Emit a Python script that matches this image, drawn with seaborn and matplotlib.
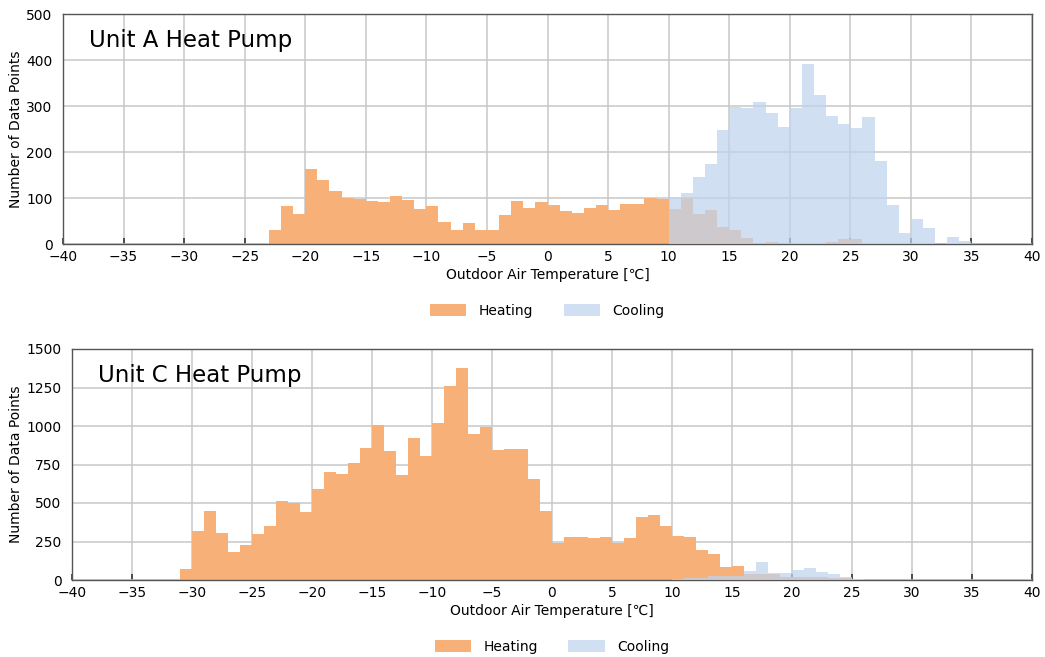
import matplotlib
matplotlib.use("Agg")
import matplotlib.pyplot as plt
import numpy as np
import pandas as pd
import seaborn as sns

# 1 degree bins, value = left edge of the bin
a_heat_temp = list(range(-23, 26))
a_heat_count = [31, 82, 66, 163, 140, 115, 99, 97, 93, 92, 104, 96, 77, 82, 47, 31,
                46, 30, 30, 62, 94, 79, 92, 84, 71, 67, 78, 85, 74, 87, 88, 99, 98,
                77, 99, 65, 74, 36, 30, 12, 3, 4, 2, 0, 0, 0, 4, 11, 11]
a_cool_temp = list(range(10, 35))
a_cool_count = [99, 110, 146, 175, 248, 298, 296, 308, 285, 254, 296, 392, 324, 279,
                261, 253, 276, 181, 85, 23, 54, 35, 0, 16, 6]

c_heat_temp = list(range(-31, 25))
c_heat_count = [74, 315, 448, 307, 185, 228, 296, 350, 511, 500, 443, 593, 700, 690,
                760, 860, 1009, 840, 680, 922, 803, 1022, 1259, 1374, 948, 996, 845,
                849, 853, 654, 446, 243, 279, 279, 270, 279, 238, 270, 411, 420, 353,
                284, 279, 196, 169, 86, 92, 37, 37, 40, 22, 17, 17, 17, 15, 10]
c_cool_temp = list(range(10, 26))
c_cool_count = [4, 10, 15, 25, 25, 28, 58, 115, 45, 43, 63, 80, 54, 41, 19, 4]

x_ticks = list(range(-40, 45, 5))
heat_color = "#F6B078"
cool_color = "#BFD4EE"

sns.set_style("whitegrid")
plt.rcParams["font.family"] = ["DejaVu Sans"]
plt.rcParams["axes.unicode_minus"] = True
plt.rcParams["text.color"] = "black"
plt.rcParams["axes.labelcolor"] = "black"

fig = plt.figure(figsize=(10.45, 6.57), dpi=100)
W, H = 1045, 657
ax1 = fig.add_axes([63 / W, 1 - 244 / H, (1032 - 63) / W, (244 - 14) / H])
ax2 = fig.add_axes([72 / W, 1 - 580 / H, (1032 - 72) / W, (580 - 349) / H])

panels = [
    (ax1, a_heat_temp, a_heat_count, a_cool_temp, a_cool_count, "Unit A Heat Pump",
     500, 100),
    (ax2, c_heat_temp, c_heat_count, c_cool_temp, c_cool_count, "Unit C Heat Pump",
     1500, 250),
]

for ax, ht, hc, ct, cc, title, ymax, ystep in panels:
    heat = pd.DataFrame({"t": np.array(ht) + 0.5, "n": hc})
    cool = pd.DataFrame({"t": np.array(ct) + 0.5, "n": cc})
    sns.histplot(data=heat, x="t", weights="n", binwidth=1, binrange=(-40, 40),
                 element="step", color=heat_color, alpha=1, linewidth=0, ax=ax,
                 label="Heating", zorder=2)
    sns.histplot(data=cool, x="t", weights="n", binwidth=1, binrange=(-40, 40),
                 element="step", color=cool_color, alpha=0.72, linewidth=0, ax=ax,
                 label="Cooling", zorder=3)
    ax.set_xlim(-40, 40)
    ax.set_ylim(0, ymax)
    ax.set_xticks(x_ticks)
    ax.set_yticks(range(0, ymax + 1, ystep))
    ax.set_axisbelow(True)
    ax.grid(True, color="#C8C8C8", linewidth=1.1)
    for s in ax.spines.values():
        s.set_color("#555555")
        s.set_linewidth(1.0)
    ax.tick_params(axis="x", bottom=True, direction="in", length=4, width=1.2,
                   color="#333333", labelsize=10, pad=4, labelcolor="black")
    ax.tick_params(axis="y", left=False, labelsize=10, pad=4, labelcolor="black")
    ax.set_xlabel("Outdoor Air Temperature [\u2103]", fontsize=10, labelpad=3)
    ax.set_ylabel("Number of Data Points", fontsize=10)
    pos = ax.get_position()
    ax.yaxis.set_label_coords((23 / W - pos.x0) / pos.width, 0.5)
    ax.text(0.027, 0.885, title, transform=ax.transAxes, fontsize=16.5,
            va="center", ha="left", color="black")
    ax.legend(loc="center", bbox_to_anchor=(0.5, -0.29), ncol=2, frameon=False,
              fontsize=10, handlelength=2.6, handleheight=0.9, columnspacing=2.2,
              handletextpad=0.9)

fig.savefig("out.png", dpi=100)
